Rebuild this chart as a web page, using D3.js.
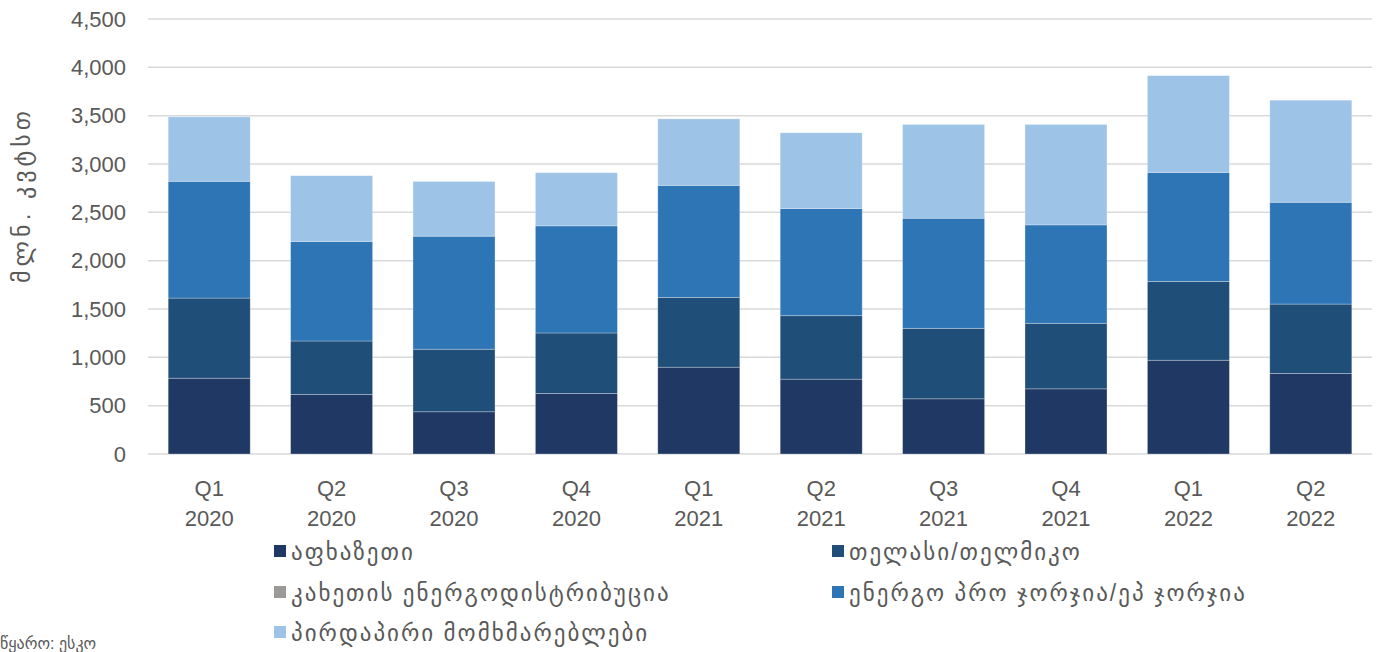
<!DOCTYPE html>
<html>
<head>
<meta charset="utf-8">
<script src="https://cdn.jsdelivr.net/npm/d3@7"></script>
<style>
  body { margin: 0; background: #fff; }
  text { font-family: "Liberation Sans", Arial, "DejaVu Sans", sans-serif; fill: #595959; }
</style>
</head>
<body>
<div id="chart"></div>
<script>
// quarters, two-line labels
const quarters = ["Q1 2020", "Q2 2020", "Q3 2020", "Q4 2020", "Q1 2021", "Q2 2021", "Q3 2021", "Q4 2021", "Q1 2022", "Q2 2022"];

// series values (mln kWh)
const abkhazia   = [784, 616, 437, 626, 898, 774, 571, 674, 970, 833];
const telasi     = [829, 553, 647, 626, 722, 657, 729, 678, 815, 718];
const kakheti    = [0, 0, 0, 0, 0, 0, 0, 0, 0, 0];
const energoPro  = [1208, 1029, 1169, 1108, 1159, 1108, 1139, 1018, 1128, 1053];
const direct     = [667, 681, 567, 550, 688, 784, 970, 1039, 1001, 1056];

const seriesNames = ["აფხაზეთი", "თელასი/თელმიკო", "კახეთის ენერგოდისტრიბუცია", "ენერგო პრო ჯორჯია/ეპ ჯორჯია", "პირდაპირი მომხმარებლები"];
const seriesColors = ["#203864", "#1f4e79", "#9b9898", "#2e75b6", "#9dc3e6"];
const yTicks = [0, 500, 1000, 1500, 2000, 2500, 3000, 3500, 4000, 4500];

const W = 1378, H = 652;
const margin = {top: 19, left: 148, right: 6, bottom: 198};
const plotW = W - margin.left - margin.right,
      plotH = H - margin.top - margin.bottom;

const svg = d3.select("#chart").append("svg")
    .attr("width", W).attr("height", H);

const g = svg.append("g")
    .attr("transform", "translate(" + margin.left + "," + margin.top + ")");

const table = quarters.map((q, i) => ({
  q: q, s0: abkhazia[i], s1: telasi[i], s2: kakheti[i], s3: energoPro[i], s4: direct[i]
}));
const keys = ["s0", "s1", "s2", "s3", "s4"];
const stacked = d3.stack().keys(keys)(table);

const x = d3.scaleBand().domain(quarters).range([0, plotW]).paddingInner(0.33).paddingOuter(0.165);
const y = d3.scaleLinear().domain([0, 4500]).range([plotH, 0]);

// grid
g.selectAll("line.grid").data(yTicks).enter().append("line")
    .attr("class", "grid")
    .attr("x1", 0).attr("x2", plotW)
    .attr("y1", d => y(d)).attr("y2", d => y(d))
    .attr("stroke", "#d9d9d9").attr("stroke-width", 1.5);

// y tick labels
const yAxis = g.append("g").call(d3.axisLeft(y).tickValues(yTicks).tickSize(0).tickPadding(22).tickFormat(d3.format(",")));
yAxis.select(".domain").remove();
yAxis.selectAll("text").style("font-size", "22px").attr("fill", "#595959");

// bars
stacked.forEach((layer, k) => {
  g.append("g").selectAll("rect").data(layer).enter().append("rect")
      .attr("x", d => x(d.data.q))
      .attr("width", x.bandwidth())
      .attr("y", d => y(d[1]))
      .attr("height", d => y(d[0]) - y(d[1]))
      .attr("fill", seriesColors[k])
      .attr("stroke", "#ffffff").attr("stroke-opacity", 0.35).attr("stroke-width", 0.8);
});

// x labels in two lines
const xl = g.append("g").attr("transform", "translate(0," + plotH + ")");
quarters.forEach(q => {
  const parts = q.split(" ");
  const t = xl.append("text")
      .attr("x", x(q) + x.bandwidth() / 2)
      .attr("text-anchor", "middle")
      .style("font-size", "22px");
  t.append("tspan").attr("x", x(q) + x.bandwidth() / 2).attr("y", 42).text(parts[0]);
  t.append("tspan").attr("x", x(q) + x.bandwidth() / 2).attr("y", 72).text(parts[1]);
});

// y title
svg.append("text")
    .attr("transform", "translate(30,195) rotate(-90)")
    .attr("text-anchor", "middle")
    .style("font-size", "24px")
    .style("letter-spacing", "4px")
    .text("მლნ. კვტსთ");

// legend
const legendPos = [
  {x: 274, y: 552}, {x: 832, y: 552},
  {x: 274, y: 593}, {x: 832, y: 593},
  {x: 274, y: 633}
];
seriesNames.forEach((name, i) => {
  const p = legendPos[i];
  svg.append("rect")
      .attr("x", p.x).attr("y", p.y - 7)
      .attr("width", 12).attr("height", 12)
      .attr("fill", seriesColors[i]);
  svg.append("text")
      .attr("x", p.x + 17).attr("y", p.y + 8)
      .style("font-size", "23px")
      .style("letter-spacing", "2px")
      .text(name);
});

// source
svg.append("text")
    .attr("x", 0).attr("y", 649)
    .style("font-size", "16px")
    .text("წყარო: ესკო");
</script>
</body>
</html>
